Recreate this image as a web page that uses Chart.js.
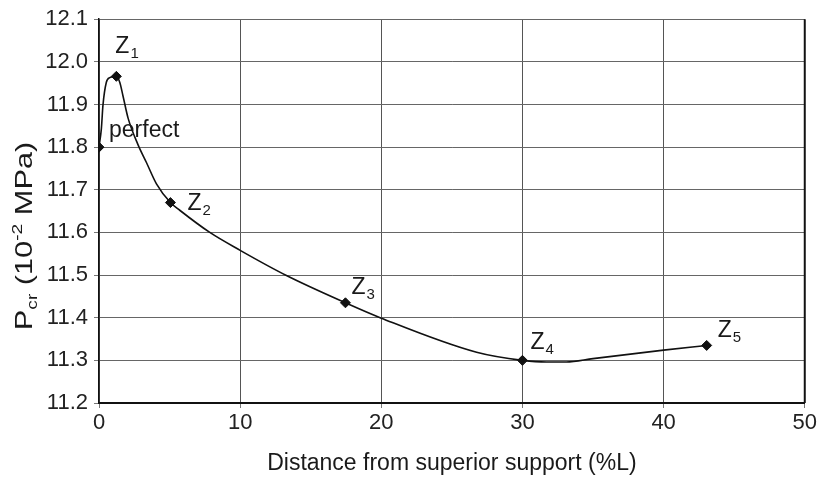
<!DOCTYPE html>
<html>
<head>
<meta charset="utf-8">
<script src="https://cdn.jsdelivr.net/npm/chart.js@4/dist/chart.umd.min.js"></script>
<style>
  html, body { margin: 0; padding: 0; background: #fff; }
  #wrap { width: 819px; height: 478px; }
</style>
</head>
<body>
<div id="wrap"><canvas id="c" width="819" height="478"></canvas></div>
<script>
// ---- data ----
const curveX = [0, 0.17, 0.28, 0.52, 0.76, 1.23, 1.47, 1.7, 2.06, 2.76, 3.36, 4.07, 5.06, 5.72, 7.85, 10.0, 13.28, 17.46, 20.0, 26.75, 30.0, 31.7, 33.1, 35.0, 40.0, 43.05];
const curveY = [11.80, 11.844, 11.898, 11.952, 11.963, 11.966, 11.952, 11.92, 11.868, 11.806, 11.764, 11.714, 11.67, 11.652, 11.60, 11.558, 11.499, 11.435, 11.399, 11.319, 11.30, 11.296, 11.296, 11.304, 11.324, 11.335];

const markerX = [0, 1.23, 5.06, 17.46, 30.0, 43.05];
const markerY = [11.80, 11.966, 11.67, 11.435, 11.30, 11.335];
const labelMain = ['perfect', 'Z', 'Z', 'Z', 'Z', 'Z'];
const labelSub  = ['', '1', '2', '3', '4', '5'];

const xTickValues = [0, 10, 20, 30, 40, 50];
const yTickValues = [11.2, 11.3, 11.4, 11.5, 11.6, 11.7, 11.8, 11.9, 12.0, 12.1];

const xTitle = 'Distance from superior support (%L)';
const FONT = "'Liberation Sans', Arial, Helvetica, sans-serif";

// pixel offsets of each point label from its marker (presentation only)
const labelOffsets = [[10, -10], [-1, -23], [17, 7], [6, -9], [8, -11], [11, -8]];

const labelPlugin = {
  id: 'labels',
  afterDraw(chart) {
    const ctx = chart.ctx;
    const xs = chart.scales.x, ys = chart.scales.y;
    const ca = chart.chartArea;
    ctx.save();
    // right border (black)
    ctx.strokeStyle = '#111';
    ctx.lineWidth = 2;
    ctx.beginPath();
    ctx.moveTo(ca.right, ca.top);
    ctx.lineTo(ca.right, ca.bottom);
    ctx.stroke();

    ctx.fillStyle = '#1a1a1a';
    ctx.textBaseline = 'alphabetic';
    ctx.textAlign = 'left';
    for (let i = 0; i < markerX.length; i++) {
      const px = xs.getPixelForValue(markerX[i]) + labelOffsets[i][0];
      const py = ys.getPixelForValue(markerY[i]) + labelOffsets[i][1];
      ctx.font = '23px ' + FONT;
      ctx.fillText(labelMain[i], px, py);
      if (labelSub[i]) {
        const w = ctx.measureText(labelMain[i]).width;
        ctx.font = '15px ' + FONT;
        ctx.fillText(labelSub[i], px + w + 1, py + 5);
      }
    }

    // x axis title
    ctx.font = '23px ' + FONT;
    ctx.textAlign = 'center';
    ctx.fillText(xTitle, (ca.left + ca.right) / 2, 470);

    // y axis title (rotated), with subscript and superscript
    const segs = [
      { t: 'P', f: 24, dy: 0 },
      { t: 'cr', f: 15, dy: 5 },
      { t: ' (10', f: 24, dy: 0 },
      { t: '-2', f: 15, dy: -10 },
      { t: ' MPa)', f: 24, dy: 0 }
    ];
    ctx.textAlign = 'left';
    let total = 0;
    segs.forEach(s => { ctx.font = s.f + 'px ' + FONT; s.w = ctx.measureText(s.t).width; total += s.w; });
    ctx.translate(32, 236);
    ctx.rotate(-Math.PI / 2);
    ctx.scale(1.28, 1.0);
    let x = -total / 2;
    segs.forEach(s => {
      ctx.font = s.f + 'px ' + FONT;
      ctx.fillText(s.t, x, s.dy);
      x += s.w;
    });
    ctx.restore();
  }
};

new Chart(document.getElementById('c'), {
  type: 'scatter',
  data: {
    datasets: [
      {
        type: 'line',
        data: curveX.map((x, i) => ({ x: x, y: curveY[i] })),
        borderColor: '#111',
        borderWidth: 1.6,
        pointRadius: 0,
        fill: false,
        cubicInterpolationMode: 'monotone'
      },
      {
        data: markerX.map((x, i) => ({ x: x, y: markerY[i] })),
        pointStyle: 'rectRot',
        pointRadius: 5,
        backgroundColor: '#111',
        borderColor: '#111',
        borderWidth: 1
      }
    ]
  },
  options: {
    responsive: false,
    animation: false,
    devicePixelRatio: 1,
    layout: { padding: { left: 0, right: 14, top: 12, bottom: 0 } },
    plugins: { legend: { display: false }, tooltip: { enabled: false } },
    scales: {
      x: {
        type: 'linear',
        min: 0, max: 50,
        afterBuildTicks: s => { s.ticks = xTickValues.map(v => ({ value: v })); },
        afterFit: s => { s.height = 75; },
        grid: { color: '#555', lineWidth: 1, tickLength: 5, tickColor: '#777' },
        border: { color: '#111', width: 2 },
        ticks: {
          color: '#222',
          font: { family: FONT, size: 22 },
          padding: 2,
          maxRotation: 0,
          callback: v => String(v)
        }
      },
      y: {
        type: 'linear',
        min: 11.2, max: 12.1,
        afterBuildTicks: s => { s.ticks = yTickValues.map(v => ({ value: v })); },
        afterFit: s => { s.width = 99; },
        grid: { color: '#666', lineWidth: 1, tickLength: 5, tickColor: '#777' },
        border: { color: '#111', width: 1.5 },
        ticks: {
          color: '#222',
          font: { family: FONT, size: 22 },
          padding: 6,
          callback: v => Number(v).toFixed(1)
        }
      }
    }
  },
  plugins: [labelPlugin]
});
</script>
</body>
</html>
